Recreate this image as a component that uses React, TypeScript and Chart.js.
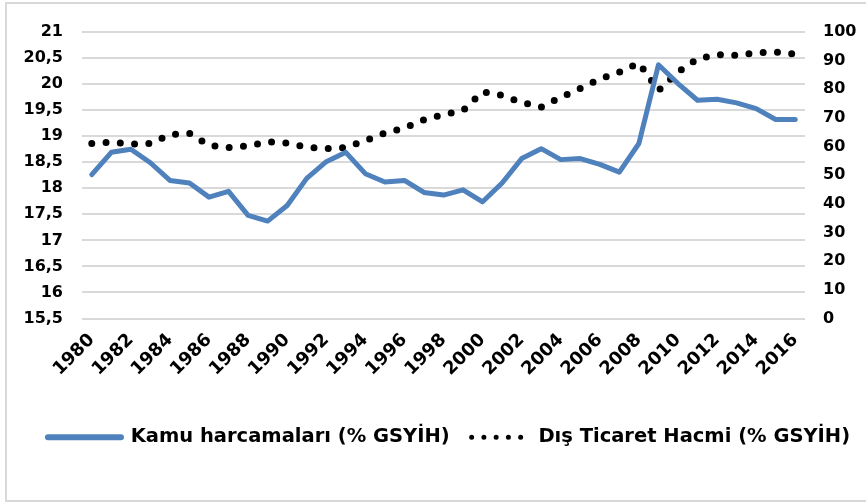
import React, { useEffect, useRef } from "react";
import { Chart, registerables } from "chart.js";

Chart.register(...registerables);

const years = [
  "1980", "1981", "1982", "1983", "1984", "1985", "1986", "1987", "1988", "1989",
  "1990", "1991", "1992", "1993", "1994", "1995", "1996", "1997", "1998", "1999",
  "2000", "2001", "2002", "2003", "2004", "2005", "2006", "2007", "2008", "2009",
  "2010", "2011", "2012", "2013", "2014", "2015", "2016",
];

const kamuHarcamalari = [
  18.26, 18.69, 18.75, 18.49, 18.15, 18.1, 17.83, 17.94, 17.48, 17.37,
  17.67, 18.19, 18.51, 18.69, 18.28, 18.12, 18.15, 17.92, 17.87, 17.97,
  17.74, 18.1, 18.57, 18.76, 18.55, 18.57, 18.46, 18.31, 18.86, 20.37,
  20.01, 19.69, 19.71, 19.64, 19.53, 19.32, 19.32,
];

const disTicaretHacmi = [
  61.1, 61.5, 60.9, 61.1, 64.2, 64.6, 60.4, 59.7, 60.2, 61.7,
  61.2, 59.8, 59.3, 59.7, 62.1, 64.7, 66.5, 69.4, 71.2, 72.6,
  79.1, 77.9, 75.4, 73.8, 77.2, 80.3, 83.6, 86.0, 89.2, 79.6,
  86.0, 90.6, 92.1, 91.9, 92.7, 93.0, 92.3,
];

const seriesNames = ["Kamu harcamaları (% GSYİH)", "Dış Ticaret Hacmi (% GSYİH)"];

const FONT = "'DejaVu Sans', Verdana, sans-serif";

export default function App() {
  const canvasRef = useRef<HTMLCanvasElement | null>(null);

  useEffect(() => {
    const canvas = canvasRef.current;
    if (!canvas) return;
    const chart = new Chart(canvas, {
      type: "line",
      data: {
        labels: years,
        datasets: [
          {
            label: seriesNames[0],
            data: kamuHarcamalari,
            yAxisID: "y",
            borderColor: "#4f81bd",
            backgroundColor: "#4f81bd",
            borderWidth: 5,
            borderCapStyle: "round",
            borderJoinStyle: "round",
            pointRadius: 0,
            tension: 0,
          },
          {
            label: seriesNames[1],
            data: disTicaretHacmi,
            yAxisID: "y1",
            borderColor: "#000000",
            backgroundColor: "#000000",
            borderWidth: 7,
            borderDash: [0, 14.3],
            borderCapStyle: "round",
            borderJoinStyle: "round",
            pointRadius: 0,
            tension: 0,
          },
        ],
      },
      options: {
        animation: false,
        responsive: true,
        maintainAspectRatio: false,
        layout: { padding: { left: 0, right: 0, top: 32, bottom: 45 } },
        plugins: {
          tooltip: { enabled: false },
          legend: {
            position: "bottom",
            labels: {
              usePointStyle: true,
              pointStyleWidth: 73,
              boxHeight: 19,
              padding: 6,
              color: "#000000",
              font: { family: FONT, size: 19.5, weight: "bold" },
              generateLabels: (c: any) => {
                const items = (Chart.defaults as any).plugins.legend.labels.generateLabels(c);
                items[0] = {
                  ...items[0],
                  pointStyle: "line",
                  lineWidth: 6,
                  lineCap: "round",
                  lineDash: [],
                  strokeStyle: "#4f81bd",
                };
                items[1] = {
                  ...items[1],
                  pointStyle: "line",
                  lineWidth: 5,
                  lineCap: "round",
                  lineDash: [0, 12.25, 0, 12.25, 0, 12.25, 0, 12.25, 0, 24.5],
                  lineDashOffset: -16,
                  strokeStyle: "#000000",
                };
                return items;
              },
            },
          },
        },
        scales: {
          x: {
            type: "category",
            offset: true,
            grid: { display: false, drawTicks: false },
            border: { display: false },
            afterFit: (s: any) => {
              s.height = 103;
            },
            ticks: {
              autoSkip: false,
              minRotation: 45,
              maxRotation: 45,
              padding: 11,
              color: "#000000",
              font: { family: FONT, size: 18, weight: "bold" },
              callback: function (this: any, _v: any, i: number) {
                return i % 2 === 0 ? years[i] : "";
              },
            },
          },
          y: {
            position: "left",
            min: 15.5,
            max: 21,
            afterFit: (s: any) => {
              s.width = 82;
            },
            grid: { color: "#d9d9d9", lineWidth: 2, drawTicks: false },
            border: { display: false },
            ticks: {
              stepSize: 0.5,
              padding: 19,
              color: "#000000",
              font: { family: FONT, size: 16, weight: "bold" },
              callback: (v: any) => String(v).replace(".", ","),
            },
          },
          y1: {
            position: "right",
            min: 0,
            max: 100,
            afterFit: (s: any) => {
              s.width = 93;
            },
            grid: { display: false, drawTicks: false },
            border: { display: false },
            ticks: {
              stepSize: 10,
              padding: 18,
              color: "#000000",
              font: { family: FONT, size: 16, weight: "bold" },
            },
          },
        },
      },
    } as any);
    return () => chart.destroy();
  }, []);

  return (
    <div style={{ position: "absolute", left: 0, top: 0, width: 866, height: 502, background: "#ffffff", overflow: "hidden" }}>
      <div
        style={{
          position: "absolute",
          left: 5,
          top: 2,
          width: 880,
          height: 496,
          borderLeft: "2px solid #d9d9d9",
          borderTop: "2px solid #d9d9d9",
          borderBottom: "3px solid #d9d9d9",
        }}
      />
      <div style={{ position: "absolute", left: 0, top: 0, width: 898, height: 502 }}>
        <canvas ref={canvasRef} />
      </div>
    </div>
  );
}
